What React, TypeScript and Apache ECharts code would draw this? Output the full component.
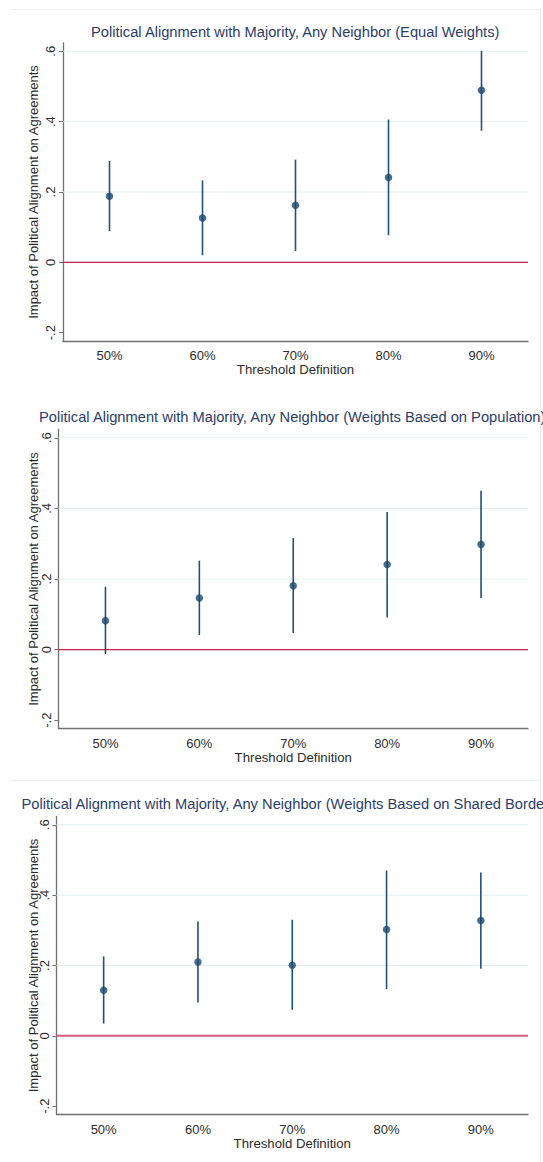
import React, { useEffect, useRef } from "react";
import * as echarts from "echarts";

// Threshold definitions on the x axis
const categories = ["50%", "60%", "70%", "80%", "90%"];

// Point estimates and 95% confidence bounds, one set per weighting scheme
const equalEst = [0.188, 0.126, 0.162, 0.241, 0.489];
const equalLo = [0.089, 0.02, 0.032, 0.077, 0.374];
const equalHi = [0.288, 0.233, 0.292, 0.406, 0.601];

const popEst = [0.082, 0.146, 0.181, 0.241, 0.298];
const popLo = [-0.013, 0.041, 0.047, 0.091, 0.146];
const popHi = [0.178, 0.252, 0.316, 0.39, 0.45];

const borderEst = [0.13, 0.21, 0.201, 0.302, 0.328];
const borderLo = [0.035, 0.095, 0.074, 0.133, 0.191];
const borderHi = [0.226, 0.325, 0.33, 0.47, 0.464];

const panelTitles = [
  "Political Alignment with Majority, Any Neighbor (Equal Weights)",
  "Political Alignment with Majority, Any Neighbor (Weights Based on Population)",
  "Political Alignment with Majority, Any Neighbor (Weights Based on Shared Borders)",
];

const yTicks = [-0.2, 0, 0.2, 0.4, 0.6];
const gridValues = [0.2, 0.4, 0.6];
const zeroValue = 0;
const yTitle = "Impact of Political Alignment on Agreements";
const xTitle = "Threshold Definition";

const FONT = "'Liberation Sans', Arial, Helvetica, sans-serif";
const NAVY = "#1a476f";
const TEXT = "#2b2b2b";
const GRIDLINE = "#e4eeef";

// Placement of each panel on the page
const layouts = [
  { left: 63, top: 43, width: 465, height: 298, titleLeft: 91, titleTop: 24, nameGap: 23, zero: "#cc1f45", zeroWidth: 1.2 },
  { left: 58.5, top: 429.5, width: 469.5, height: 299, titleLeft: 39, titleTop: 409.5, nameGap: 18.5, zero: "#cc1f45", zeroWidth: 1.2 },
  { left: 56.5, top: 816.5, width: 471.5, height: 298, titleLeft: 21.5, titleTop: 796.5, nameGap: 16.5, zero: "#d45c7c", zeroWidth: 2 },
];

const panels = [
  { est: equalEst, lo: equalLo, hi: equalHi },
  { est: popEst, lo: popLo, hi: popHi },
  { est: borderEst, lo: borderLo, hi: borderHi },
];

const tickText = (v: number) => (v === 0 ? "0" : String(v).replace("0.", "."));

export default function App() {
  const ref = useRef<HTMLDivElement>(null);

  useEffect(() => {
    if (!ref.current) return;
    const chart = echarts.init(ref.current, null, { renderer: "svg" });

    const grid = layouts.map((l) => ({ left: l.left, top: l.top, width: l.width, height: l.height, containLabel: false }));

    const title = layouts.map((l, i) => ({
      text: panelTitles[i],
      left: l.titleLeft,
      top: l.titleTop,
      padding: 0,
      textStyle: { fontFamily: FONT, fontSize: 14.7, fontWeight: "normal", color: "#2a3d69" },
    }));

    const xAxis = layouts.map((_, i) => ({
      type: "category",
      gridIndex: i,
      data: categories,
      boundaryGap: true,
      name: xTitle,
      nameLocation: "middle",
      nameGap: 22,
      nameMoveOverlap: false,
      nameTextStyle: { fontFamily: FONT, fontSize: 13.2, color: TEXT },
      axisLine: { onZero: false, lineStyle: { color: "#707070", width: 1.3 } },
      axisTick: { alignWithLabel: true, length: 3, lineStyle: { color: "#707070" } },
      axisLabel: { fontFamily: FONT, fontSize: 13, color: TEXT, margin: 8 },
      splitLine: { show: false },
    }));

    const yAxis = layouts.map((l, i) => ({
      type: "value",
      gridIndex: i,
      min: -0.2235,
      max: 0.6235,
      name: yTitle,
      nameLocation: "middle",
      nameRotate: 90,
      nameGap: l.nameGap,
      nameMoveOverlap: false,
      nameTextStyle: { fontFamily: FONT, fontSize: 13, color: TEXT },
      axisLine: { show: true, onZero: false, lineStyle: { color: "#707070", width: 1.3 } },
      axisTick: { show: true, length: 4, customValues: yTicks, lineStyle: { color: "#707070" } },
      axisLabel: {
        fontFamily: FONT,
        fontSize: 13,
        color: TEXT,
        rotate: 90,
        margin: 6,
        customValues: yTicks,
        formatter: (v: number) => tickText(v),
      },
      splitLine: { show: false },
    }));

    const series: any[] = [];
    panels.forEach((p, i) => {
      const l = layouts[i];
      // horizontal gridlines and the zero reference line, spanning the plot width
      series.push({
        type: "custom",
        xAxisIndex: i,
        yAxisIndex: i,
        z: 1,
        silent: true,
        data: [...gridValues, zeroValue].map((v) => [0, v]),
        encode: { x: 0, y: 1 },
        renderItem: (params: any, api: any) => {
          const cs = params.coordSys;
          const v = api.value(1);
          const y = api.coord([0, v])[1];
          const isZero = v === zeroValue;
          return {
            type: "line",
            z2: isZero ? 5 : 1,
            shape: { x1: cs.x, y1: y, x2: cs.x + cs.width, y2: y },
            style: { stroke: isZero ? l.zero : GRIDLINE, lineWidth: isZero ? l.zeroWidth : 1 },
          };
        },
      });
      // confidence intervals
      series.push({
        type: "custom",
        xAxisIndex: i,
        yAxisIndex: i,
        z: 2,
        data: categories.map((_, k) => [k, p.lo[k], p.hi[k]]),
        encode: { x: 0, y: [1, 2] },
        renderItem: (_params: any, api: any) => {
          const x = api.value(0);
          const a = api.coord([x, api.value(1)]);
          const b = api.coord([x, api.value(2)]);
          return {
            type: "line",
            shape: { x1: a[0], y1: a[1], x2: b[0], y2: b[1] },
            style: { stroke: "#21507c", lineWidth: 1.6 },
          };
        },
      });
      // point estimates
      series.push({
        type: "scatter",
        xAxisIndex: i,
        yAxisIndex: i,
        z: 3,
        symbol: "circle",
        symbolSize: 7.5,
        itemStyle: { color: NAVY },
        data: p.est,
      });
    });

    // faint outer frames of the graph regions
    const frame = "#eceff1";
    const graphic = [
      { type: "line", shape: { x1: 11, y1: 9.5, x2: 540, y2: 9.5 }, style: { stroke: frame, lineWidth: 1 } },
      { type: "line", shape: { x1: 11, y1: 780.5, x2: 540, y2: 780.5 }, style: { stroke: frame, lineWidth: 1 } },
      { type: "line", shape: { x1: 540.5, y1: 9, x2: 540.5, y2: 1162 }, style: { stroke: frame, lineWidth: 1 } },
    ];

    chart.setOption({
      animation: false,
      backgroundColor: "#ffffff",
      title,
      grid,
      xAxis,
      yAxis,
      series,
      graphic,
    });

    return () => chart.dispose();
  }, []);

  return (
    <div
      ref={ref}
      style={{ position: "absolute", left: 0, top: 0, width: 543, height: 1162 }}
    />
  );
}
